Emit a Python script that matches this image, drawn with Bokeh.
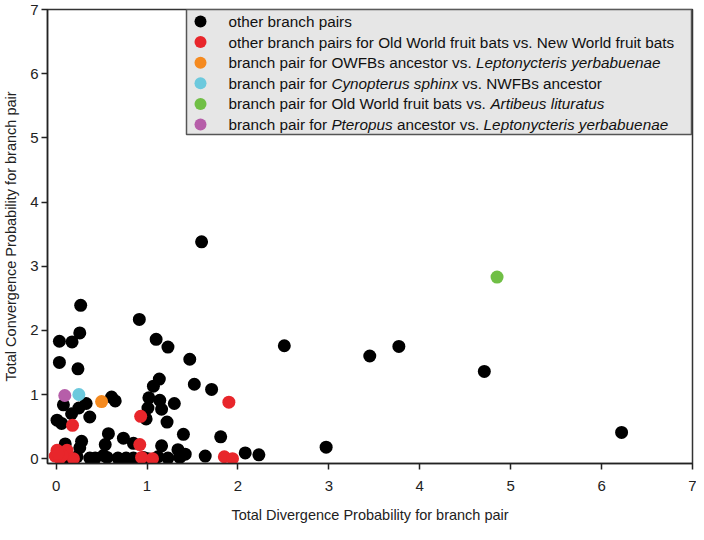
from bokeh.plotting import figure
from bokeh.models import Range1d, FixedTicker, ColumnDataSource
from bokeh.embed import file_html
from bokeh.resources import INLINE
from bokeh.core.properties import value

# ---------------- data ----------------
other_x = [1.60, 2.51, 3.45, 3.77, 4.71, 6.22, 2.97, 2.23, 2.08,
           0.27, 0.915, 0.036, 0.175, 0.26, 1.10, 1.23, 1.47, 0.036, 0.24,
           1.135, 1.07, 1.52, 1.71,
           1.02, 1.14, 1.01, 1.16, 1.30, 0.99, 1.22, 0.61, 0.65, 0.08, 0.33,
           0.25, 0.17, 0.37, 0.01, 0.06,
           0.575, 0.74, 0.85, 1.40, 1.81, 0.10, 0.28, 0.26, 0.54, 1.16, 1.34,
           1.42, 1.64,
           0.10, 0.23, 0.37, 0.43, 0.56, 0.68, 0.77, 0.85, 0.96, 1.01, 1.23,
           1.36, 0.52, 1.12]
other_y = [3.38, 1.76, 1.60, 1.75, 1.36, 0.41, 0.18, 0.06, 0.09,
           2.39, 2.17, 1.83, 1.82, 1.96, 1.86, 1.74, 1.55, 1.50, 1.40,
           1.24, 1.13, 1.16, 1.08,
           0.95, 0.91, 0.79, 0.77, 0.86, 0.62, 0.57, 0.96, 0.90, 0.84, 0.86,
           0.79, 0.70, 0.65, 0.60, 0.55,
           0.39, 0.32, 0.24, 0.38, 0.34, 0.23, 0.27, 0.17, 0.22, 0.20, 0.14,
           0.07, 0.04,
           0.02, 0.03, 0.01, 0.01, 0.02, 0.01, 0.01, 0.01, 0.02, 0.00, 0.01,
           0.02, 0.05, 0.03]

owfb_nwfb_x = [1.90, 0.93, 0.18, 0.92, 0.01, -0.01, 0.12, 0.04, 0.19, 0.07,
               0.94, 1.06, 1.85, 1.94, 0.02]
owfb_nwfb_y = [0.88, 0.66, 0.52, 0.22, 0.13, 0.04, 0.13, 0.01, 0.00, 0.05,
               0.02, 0.00, 0.03, 0.00, 0.08]

owfb_lepto_x = [0.50]
owfb_lepto_y = [0.89]
cyno_x = [0.25]
cyno_y = [1.00]
owfb_artibeus_x = [4.85]
owfb_artibeus_y = [2.83]
ptero_x = [0.095]
ptero_y = [0.985]

series_colors = ["#000000", "#e8262b", "#f58a1f", "#6cc9dd", "#70bf45", "#b65ea9"]

legend_rows = [
    [("other branch pairs", "normal")],
    [("other branch pairs for Old World fruit bats vs. New World fruit bats", "normal")],
    [("branch pair for OWFBs ancestor vs. ", "normal"), ("Leptonycteris yerbabuenae", "italic")],
    [("branch pair for ", "normal"), ("Cynopterus sphinx", "italic"), (" vs. NWFBs ancestor", "normal")],
    [("branch pair for Old World fruit bats vs. ", "normal"), ("Artibeus lituratus", "italic")],
    [("branch pair for ", "normal"), ("Pteropus", "italic"), (" ancestor vs. ", "normal"),
     ("Leptonycteris yerbabuenae", "italic")],
]

x_ticks = [0, 1, 2, 3, 4, 5, 6, 7]
y_ticks = [0, 1, 2, 3, 4, 5, 6, 7]

# ---------------- figure ----------------
FONT = "Liberation Sans"
X0, X1 = -0.095, 7.0
Y0, Y1 = -0.075, 7.0
FW, FH = 645, 454

p = figure(frame_width=FW, frame_height=FH,
           x_range=Range1d(X0, X1), y_range=Range1d(Y0, Y1),
           output_backend="svg", toolbar_location=None,
           min_border_left=46, min_border_right=4, min_border_top=9, min_border_bottom=64)
p.background_fill_color = "white"
p.border_fill_color = "white"
p.outline_line_color = "#333333"
p.outline_line_width = 1.5
p.xgrid.visible = False
p.ygrid.visible = False

for ax in (p.xaxis[0], p.yaxis[0]):
    ax.axis_line_color = "#222222"
    ax.axis_line_width = 1.5
    ax.major_tick_line_color = "#222222"
    ax.major_tick_line_width = 1.5
    ax.major_tick_out = 6
    ax.major_tick_in = 0
    ax.minor_tick_out = 0
    ax.minor_tick_in = 0
    ax.major_label_text_font = FONT
    ax.major_label_text_font_size = "15px"
    ax.major_label_text_color = "#222222"
    ax.axis_label_text_font = FONT
    ax.axis_label_text_font_size = "14.5px"
    ax.axis_label_text_font_style = "normal"
    ax.axis_label_text_color = "#222222"

p.xaxis[0].ticker = FixedTicker(ticks=x_ticks)
p.yaxis[0].ticker = FixedTicker(ticks=y_ticks)
p.xaxis[0].major_label_standoff = 11
p.yaxis[0].major_label_standoff = 3
p.xaxis[0].axis_label_standoff = 13
p.yaxis[0].axis_label_standoff = 8
p.xaxis[0].axis_label = "Total Divergence Probability for branch pair"
p.yaxis[0].axis_label = "Total Convergence Probability for branch pair"

SIZE = 13
series = [(other_x, other_y), (owfb_nwfb_x, owfb_nwfb_y), (owfb_lepto_x, owfb_lepto_y),
          (cyno_x, cyno_y), (owfb_artibeus_x, owfb_artibeus_y), (ptero_x, ptero_y)]
for (xs, ys), c in zip(series, series_colors):
    p.scatter(x=xs, y=ys, size=SIZE, fill_color=c, line_color=c, line_width=0)

# ---------------- legend (drawn manually for mixed italics) ----------------
def px2x(dx):  # pixel offset from frame left -> data x
    return X0 + dx / FW * (X1 - X0)

def py2y(dy):  # pixel offset from frame top -> data y
    return Y1 - dy / FH * (Y1 - Y0)

W = {' ': 278, '.': 278, 'a': 556, 'b': 556, 'c': 500, 'd': 556, 'e': 556, 'f': 278,
     'g': 556, 'h': 556, 'i': 222, 'j': 222, 'k': 500, 'l': 222, 'm': 833, 'n': 556,
     'o': 556, 'p': 556, 'q': 556, 'r': 333, 's': 500, 't': 278, 'u': 556, 'v': 500,
     'w': 722, 'x': 500, 'y': 500, 'z': 500, 'A': 667, 'B': 667, 'C': 722, 'D': 722,
     'E': 667, 'F': 611, 'G': 778, 'H': 722, 'I': 278, 'L': 556, 'N': 722, 'O': 778,
     'P': 667, 'S': 667, 'W': 944}

LFS = 15.3
def text_w(s):
    return sum(W.get(ch, 556) for ch in s) / 1000.0 * LFS

box_l, box_r, box_t, box_b = 139, 644, 0, 125
p.quad(left=[px2x(box_l)], right=[px2x(box_r)], top=[py2y(box_t)], bottom=[py2y(box_b)],
       fill_color="#e6e6e6", line_color="#555555", line_width=1.5)

row0, row_step = 12, 20.6
mk_x, txt_x = 153, 181
norm = dict(x=[], y=[], text=[])
ital = dict(x=[], y=[], text=[])
for i, (row, c) in enumerate(zip(legend_rows, series_colors)):
    yy = py2y(row0 + i * row_step)
    p.scatter(x=[px2x(mk_x)], y=[yy], size=12, fill_color=c, line_color=c, line_width=0)
    cx = txt_x
    for seg, style in row:
        body = seg.lstrip(" ")
        cx += text_w(seg[:len(seg) - len(body)])
        d = ital if style == "italic" else norm
        d["x"].append(px2x(cx)); d["y"].append(yy); d["text"].append(body.rstrip(" "))
        cx += text_w(body)

p.text(x="x", y="y", text="text", source=ColumnDataSource(norm),
       text_font=value(FONT), text_font_size=f"{LFS}px", text_color="#111111",
       text_baseline="middle", text_align="left")
p.text(x="x", y="y", text="text", source=ColumnDataSource(ital),
       text_font=value(FONT), text_font_size=f"{LFS}px", text_font_style="italic",
       text_color="#111111", text_baseline="middle", text_align="left")

open("out.html", "w").write(file_html(p, INLINE))
